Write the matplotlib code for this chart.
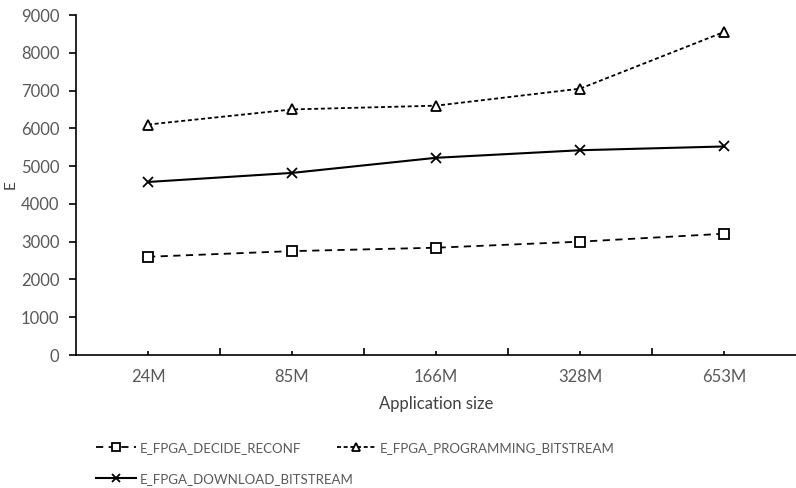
import matplotlib
matplotlib.use("Agg")
import matplotlib.pyplot as plt
from matplotlib.ticker import FixedLocator

# data
sizes = ["24M", "85M", "166M", "328M", "653M"]
decide_reconf = [2600, 2750, 2840, 3000, 3210]
programming_bitstream = [6100, 6500, 6600, 7050, 8550]
download_bitstream = [4580, 4820, 5220, 5420, 5520]

plt.rcParams.update({
    "font.family": ["Lato", "DejaVu Sans"],
    "font.size": 11,
    "axes.linewidth": 1.2,
})
grey = "#595959"

fig = plt.figure(figsize=(7.96, 4.88), dpi=100)
ax = fig.add_axes([76 / 796, (488 - 355) / 488, 1 - 76 / 796, 340 / 488])

x = range(len(sizes))
l1, = ax.plot(x, decide_reconf, color="black", lw=1.3, linestyle=(0, (4, 3)),
              marker="s", ms=6.5, mfc="white", mec="black", mew=1.3,
              label="E_FPGA_DECIDE_RECONF")
l2, = ax.plot(x, programming_bitstream, color="black", lw=1.3, linestyle=(0, (2.2, 1.5)),
              marker="^", ms=7, mfc="white", mec="black", mew=1.3,
              label="E_FPGA_PROGRAMMING_BITSTREAM")
l3, = ax.plot(x, download_bitstream, color="black", lw=1.5, linestyle="-",
              marker="x", ms=7, mec="black", mew=1.3,
              label="E_FPGA_DOWNLOAD_BITSTREAM")

ax.set_xlim(-0.5, len(sizes) - 0.5)
ax.set_ylim(0, 9000)
ax.set_yticks(range(0, 9001, 1000))
ax.set_xticks(list(x))
ax.set_xticklabels(sizes)
ax.xaxis.set_minor_locator(FixedLocator([i + 0.5 for i in range(len(sizes) - 1)]))

for side in ["top", "right"]:
    ax.spines[side].set_visible(False)
ax.tick_params(axis="x", which="major", direction="in", length=3, width=1.2,
               colors="black", labelcolor=grey, labelsize=12, pad=10)
ax.tick_params(axis="x", which="minor", direction="in", length=5, width=1.2)
ax.tick_params(axis="y", direction="out", length=5, width=1.2,
               colors="black", labelcolor=grey, labelsize=12, pad=7)

ax.set_xlabel("Application size", color="#404040", fontsize=12, labelpad=8)
ax.set_ylabel("E", color="#404040", fontsize=11)
ax.yaxis.set_label_coords(-0.081, 0.5)

# Excel-style legend: two entries on the first row, one on the second
leg_opts = dict(loc="center left", frameon=False, handlelength=3.0,
                handletextpad=0.3, fontsize=9.5, borderpad=0, borderaxespad=0)
leg1 = fig.legend(handles=[l1, l2], ncol=2, columnspacing=2.7,
                  bbox_to_anchor=(96 / 796, (488 - 448) / 488), **leg_opts)
leg2 = fig.legend(handles=[l3], bbox_to_anchor=(96 / 796, (488 - 479) / 488), **leg_opts)
for leg in (leg1, leg2):
    for t in leg.get_texts():
        t.set_color(grey)
    for h in leg.legend_handles:
        h.set_markersize(5.5)

fig.savefig("out.png", dpi=100)
